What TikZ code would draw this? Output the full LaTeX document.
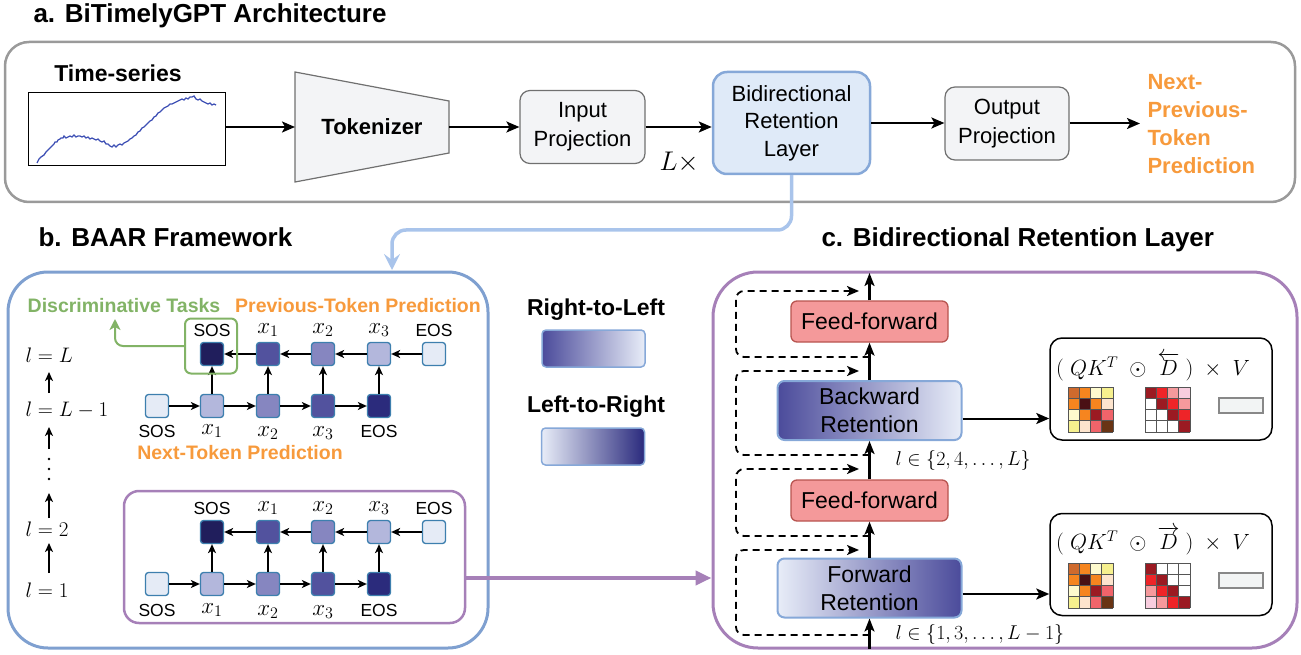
\RequirePackage{fix-cm}
\documentclass[tikz,border=0pt]{standalone}
\usepackage{amsmath}
\usepackage[no-math]{fontspec}
\setmainfont{Liberation Sans}
\usetikzlibrary{arrows.meta,calc}
\newcommand\fsz[2]{\fontsize{#1}{#2}\selectfont}
\definecolor{panelgray}{HTML}{9A9A9A}
\definecolor{boxfill}{HTML}{F3F4F6}
\definecolor{boxline}{HTML}{707070}
\definecolor{bidfill}{HTML}{DFEAF8}
\definecolor{bidline}{HTML}{86A8D8}
\definecolor{connblue}{HTML}{A9C4EB}
\definecolor{panelblue}{HTML}{7FA0D0}
\definecolor{ppl}{HTML}{A680B8}
\definecolor{orng}{HTML}{F79A3C}
\definecolor{grn}{HTML}{82B366}
\definecolor{tsblue}{HTML}{3F51B5}
\definecolor{tk1}{HTML}{201E5C}
\definecolor{tk2}{HTML}{52529E}
\definecolor{tk3}{HTML}{8686C0}
\definecolor{tk4}{HTML}{B3B7DC}
\definecolor{tk5}{HTML}{E5EBF6}
\definecolor{tk6}{HTML}{2B2B7C}
\definecolor{tkline}{HTML}{3D7FAE}
\definecolor{gdark}{HTML}{4B4B9B}
\definecolor{glight}{HTML}{E8EDF8}
\definecolor{gdarker}{HTML}{2A2A7D}
\definecolor{fffill}{HTML}{F4999A}
\definecolor{ffline}{HTML}{B85450}
\definecolor{vfill}{HTML}{F2F4F4}
\definecolor{vline}{HTML}{888888}
\definecolor{gridc}{HTML}{555555}
\definecolor{qbr}{HTML}{CF6A2D}
\definecolor{qor}{HTML}{F6851F}
\definecolor{qly}{HTML}{FEFACD}
\definecolor{qy}{HTML}{F6F08E}
\definecolor{qdm}{HTML}{4A1014}
\definecolor{qpe}{HTML}{FDE4CD}
\definecolor{qdr}{HTML}{9B1A22}
\definecolor{qsa}{HTML}{F0646A}
\definecolor{qdb}{HTML}{693414}
\definecolor{dr2}{HTML}{EE2428}
\definecolor{dpk}{HTML}{F5999C}
\definecolor{dlp}{HTML}{F8CDDE}
\newcommand\drawmatrix[3]{%
  \foreach \mcl [count=\mi from 0] in {#3} {%
    \pgfmathtruncatemacro\mcolx{mod(\mi,4)}%
    \pgfmathtruncatemacro\mrowy{div(\mi,4)}%
    \fill[\mcl] ({#1+\mcolx*11.25},{#2+\mrowy*11.25}) rectangle ++(11.25,11.25);
  }%
  \foreach \mk in {0,...,4} {%
    \draw[gridc, line width=0.7pt] ({#1+\mk*11.25},#2) -- ++(0,45);
    \draw[gridc, line width=0.7pt] (#1,{#2+\mk*11.25}) -- ++(45,0);
  }%
}
\begin{document}
\begin{tikzpicture}[x=1pt,y=-1pt,
  arr/.style={line width=2pt,-{Stealth[length=13pt,width=11pt,inset=3pt]}},
  sarr/.style={line width=1.6pt,-{Stealth[length=9pt,width=8pt,inset=2.5pt]}},
  marr/.style={line width=2.2pt,-{Stealth[length=13pt,width=10pt,inset=3pt]}},
  dsh/.style={line width=1.8pt,dash pattern=on 7pt off 5pt,rounded corners=8pt,-{Stealth[length=12pt,width=10pt,inset=3pt]}},
  gbox/.style={draw=boxline,fill=boxfill,line width=1.2pt,rounded corners=10pt,align=center,font=\fsz{22}{29}},
  tokbox/.style={draw=tkline,line width=1.3pt,rounded corners=3pt,minimum size=23pt,inner sep=0pt},
  lab/.style={font=\fsz{17.5}{20},inner sep=0.5pt},
  mlab/.style={font=\fsz{23}{26},inner sep=0.5pt},
  llab/.style={font=\fsz{21}{24},anchor=west},
  ttl/.style={font=\bfseries\fsz{26}{30},anchor=base west},
  otext/.style={font=\bfseries\fsz{19.5}{23},text=orng,inner sep=0.5pt},
  ffbox/.style={draw=ffline,fill=fffill,line width=1.3pt,rounded corners=6pt,minimum width=157pt,minimum height=41pt,font=\fsz{23}{27}},
  retbox/.style={draw=bidline,line width=2pt,rounded corners=7pt,minimum width=184pt,minimum height=59pt,align=center,font=\fsz{23}{28}},
  mbox/.style={draw=black,line width=1.5pt,rounded corners=12pt,minimum width=222pt,minimum height=102pt},
  vbox/.style={draw=vline,fill=vfill,line width=1.5pt,minimum width=44pt,minimum height=15pt,inner sep=0pt}
]
\useasboundingbox (0,0) rectangle (1301,655);

% ================= panel a =================
\node[ttl] (ta) at (30,23) {a. BiTimelyGPT Architecture};
\node[draw=panelgray,line width=2.5pt,rounded corners=24pt,minimum width=1290pt,minimum height=160pt] (PA) at (650,122) {};
\node[font=\bfseries\fsz{23}{27}] (tslab) at (118,73) {Time-series};
\node[draw,line width=1pt,minimum width=197pt,minimum height=73pt] (ts) at (126.5,129.5) {};
\draw[tsblue,line width=1.3pt] plot coordinates {(37,163) (39,159) (41,157) (44,155) (46,152) (48,150) (50,148) (52,146) (54,144) (55,142) (57,142) (58,140) (60,139) (61,138) (63,138) (64,136) (66,138) (68,137) (70,136) (72,137) (74,135) (76,137) (78,136) (80,136) (82,137) (84,136) (86,138) (88,137) (90,139) (92,138) (94,139) (96,140) (98,139) (100,141) (102,142) (104,141) (106,144) (108,144) (110,146) (112,147) (114,145) (116,147) (118,145) (120,144) (122,145) (124,143) (126,142) (128,141) (130,139) (132,138) (134,136) (136,135) (138,132) (140,131) (142,128) (144,127) (146,125) (148,123) (150,121) (152,120) (154,117) (156,116) (158,113) (160,112) (162,110) (164,108) (166,107) (168,106) (170,104) (172,104) (174,103) (176,102) (178,101) (180,100) (182,99) (184,100) (186,98) (188,99) (190,97) (192,97) (194,96) (196,99) (198,100) (200,99) (202,101) (204,102) (206,103) (208,104) (210,103) (212,105) (214,104) (216,105)};
\draw[draw=boxline,fill=boxfill,line width=1.2pt] (295,72) -- (449,101) -- (449,153) -- (295,182) -- cycle;
\node[font=\bfseries\fsz{22}{26}] (tok) at (372,127) {Tokenizer};
\coordinate (tokL) at (295,127);
\coordinate (tokR) at (449,127);
\node[gbox,minimum width=125pt,minimum height=73pt] (inp) at (582.5,127) {Input\\Projection};
\node[draw=bidline,fill=bidfill,line width=2.5pt,rounded corners=14pt,minimum width=157pt,minimum height=102pt,align=center,font=\fsz{22}{27.5}] (bid) at (791.5,123) {Bidirectional\\Retention\\Layer};
\node[gbox,minimum width=124pt,minimum height=73pt] (outp) at (1007,123.5) {Output\\Projection};
\node[font=\bfseries\fsz{22}{27.7},text=orng,align=left,anchor=west] (pred) at (1144,124) {Next-\\Previous-\\Token\\Prediction};
\node[font=\fsz{27}{30}] (Lx) at (679,162) {$L\times$};
\coordinate (predtip) at (1140,123.5);
\draw[arr] (ts.east |- tokL) -- (tokL);
\draw[arr] (tokR) -- (tokR -| inp.west);
\draw[arr] (inp.east) -- (inp.east -| bid.west);
\draw[arr] (bid.east) -- (bid.east -| outp.west);
\draw[arr] (outp.east) -- (predtip);

% ================= panel b =================
\node[ttl] (tb) at (35,247) {b. BAAR Framework};
\node[draw=panelblue,line width=3pt,rounded corners=40pt,minimum width=480pt,minimum height=376pt] (PB) at (248,460) {};
\coordinate (bin) at (392,270);
\coordinate (bh) at (0,230);
\draw[connblue,line width=3.5pt,rounded corners=14pt,-{Stealth[length=16pt,width=16pt,inset=6pt]}] (bid.south) -- (bid.south |- bh) -- (bin |- bh) -- (bin);

\node[font=\bfseries\fsz{19.5}{23},text=grn,inner sep=0.5pt] (disc) at (124,306) {Discriminative Tasks};
\node[otext] (prevt) at (358,306) {Previous-Token Prediction};
\node[otext] (nextt) at (240,453) {Next-Token Prediction};

\foreach \g/\yt/\yb in {u/354/406, l/532/584} {
  \foreach \i/\x/\c in {0/212/tk1, 1/268/tk2, 2/323/tk3, 3/379/tk4, 4/434/tk5}
    \node[tokbox,fill=\c] (\g T\i) at (\x,\yt) {};
  \foreach \i/\x/\c in {0/157/tk5, 1/212/tk4, 2/268/tk3, 3/323/tk2, 4/379/tk6}
    \node[tokbox,fill=\c] (\g B\i) at (\x,\yb) {};
  \foreach \a/\b in {4/3,3/2,2/1,1/0}
    \draw[sarr] (\g T\a) -- (\g T\b);
  \foreach \a/\b in {0/1,1/2,2/3,3/4}
    \draw[sarr] (\g B\a) -- (\g B\b);
  \foreach \a/\b in {1/0,2/1,3/2,4/3}
    \draw[sarr] (\g B\a) -- (\g T\b);
}
\foreach \g/\ya/\yb in {u/330/431, l/508/610} {
  \node[lab] (\g ta0) at (212,\ya) {SOS};
  \node[mlab] (\g ta1) at (268,\ya) {$x_1$};
  \node[mlab] (\g ta2) at (323,\ya) {$x_2$};
  \node[mlab] (\g ta3) at (379,\ya) {$x_3$};
  \node[lab] (\g ta4) at (434,\ya) {EOS};
  \node[lab] (\g ba0) at (157,\yb) {SOS};
  \node[mlab] (\g ba1) at (212,\yb) {$x_1$};
  \node[mlab] (\g ba2) at (268,\yb+2) {$x_2$};
  \node[mlab] (\g ba3) at (323,\yb+2) {$x_3$};
  \node[lab] (\g ba4) at (379,\yb) {EOS};
}
\node[draw=grn,line width=2pt,rounded corners=6pt,minimum width=52pt,minimum height=55pt] (gbx) at (211,346) {};
\coordinate (dtip) at (115,319);
\draw[grn,line width=2pt,rounded corners=8pt,-{Stealth[length=11pt,width=11pt,inset=3pt]}] (gbx.west) -- (dtip |- gbx.west) -- (dtip);

\node[llab] (lL) at (22,355) {$l=L$};
\node[llab] (lL1) at (22,410) {$l=L-1$};
\node[llab] (l2) at (22,529) {$l=2$};
\node[llab] (l1) at (22,590) {$l=1$};
\coordinate (la1) at (49,393); \coordinate (lb1) at (49,372);
\coordinate (la2) at (49,449); \coordinate (lb2) at (49,427);
\coordinate (la3) at (49,518); \coordinate (lb3) at (49,493);
\coordinate (la4) at (49,573); \coordinate (lb4) at (49,543);
\foreach \k in {1,2,3,4} \draw[sarr] (la\k) -- (lb\k);
\foreach \yy in {459,469,479} \fill (49,\yy) circle (1.4pt);

\node[draw=ppl,line width=2.5pt,rounded corners=15pt,minimum width=341pt,minimum height=132pt] (PL) at (294.5,557) {};

% legend
\node[font=\bfseries\fsz{23}{27}] (rl) at (596,310) {Right-to-Left};
\node[draw=bidline,line width=1.5pt,rounded corners=4pt,left color=gdark,right color=glight,minimum width=103pt,minimum height=37pt] (rlbox) at (593.5,348.5) {};
\node[font=\bfseries\fsz{23}{27}] (lr) at (596,407) {Left-to-Right};
\node[draw=bidline,line width=1.5pt,rounded corners=4pt,left color=glight,right color=gdarker,minimum width=103pt,minimum height=37pt] (lrbox) at (593,446.5) {};

% ================= panel c =================
\node[ttl] (tc) at (818,247) {c. Bidirectional Retention Layer};
\node[draw=ppl,line width=3pt,rounded corners=45pt,minimum width=584pt,minimum height=376pt] (PC) at (1005,460) {};
\coordinate (pa) at (0,578);
\draw[ppl,line width=4pt,-{Triangle[length=16pt,width=14pt]}] (PL.east |- pa) -- (PC.west |- pa);

\node[ffbox] (FF1) at (869.5,321.5) {Feed-forward};
\node[retbox,left color=gdark,right color=glight] (BR) at (869.5,410.5) {Backward\\Retention};
\node[ffbox] (FF2) at (869.5,500.5) {Feed-forward};
\node[retbox,left color=glight,right color=gdark] (FR) at (869.5,588) {Forward\\Retention};
\coordinate (mb) at (869.5,649);
\coordinate (mt) at (869.5,273);
\draw[marr] (mb) -- (FR.south);
\draw[marr] (FR.north) -- (FF2.south);
\draw[marr] (FF2.north) -- (BR.south);
\draw[marr] (BR.north) -- (FF1.south);
\draw[marr] (FF1.north) -- (mt);
\foreach \n/\ya/\yb in {1/357/291, 2/455/371, 3/536/469, 4/635/550} {
  \coordinate (ds\n) at (869.5,\ya);
  \coordinate (dl\n) at (736,\ya);
  \coordinate (de\n) at (859,\yb);
  \draw[dsh] (ds\n) -- (dl\n) -- (dl\n |- de\n) -- (de\n);
}
\node[font=\fsz{20}{24},anchor=west] (lev) at (892,460) {$l\in\{2,4,\ldots,L\}$};
\node[font=\fsz{20}{24},anchor=west] (lod) at (892,634) {$l\in\{1,3,\ldots,L-1\}$};

\node[mbox] (M1) at (1161,389) {};
\node[mbox] (M2) at (1161,564.5) {};
\coordinate (br1) at ([yshift=-8pt]BR.east);
\coordinate (fr1) at ([yshift=-6pt]FR.east);
\draw[arr] (br1) -- (br1 -| M1.west);
\draw[arr] (fr1) -- (fr1 -| M2.west);
\node[font=\fsz{22}{26},inner sep=1pt] (f1) at (1153,367) {$(\;QK^T\;\odot\;\overleftarrow{D}\;)\;\times\;V$};
\node[font=\fsz{22}{26},inner sep=1pt] (f2) at (1153,541) {$(\;QK^T\;\odot\;\overrightarrow{D}\;)\;\times\;V$};
\drawmatrix{1068}{387}{qbr,qor,qly,qy,qor,qdm,qor,qpe,qly,qor,qdr,qsa,qy,qpe,qsa,qdb}
\drawmatrix{1145}{387}{qdr,dr2,dpk,dlp,white,qdr,dr2,dpk,white,white,qdr,dr2,white,white,white,qdr}
\drawmatrix{1068}{563}{qbr,qor,qly,qy,qor,qdm,qor,qpe,qly,qor,qdr,qsa,qy,qpe,qsa,qdb}
\drawmatrix{1145}{563}{qdr,white,white,white,dr2,qdr,white,white,dpk,dr2,qdr,white,dlp,dpk,dr2,qdr}
\node[vbox] (V1) at (1241,405.5) {};
\node[vbox] (V2) at (1241,580.5) {};
\end{tikzpicture}
\end{document}
